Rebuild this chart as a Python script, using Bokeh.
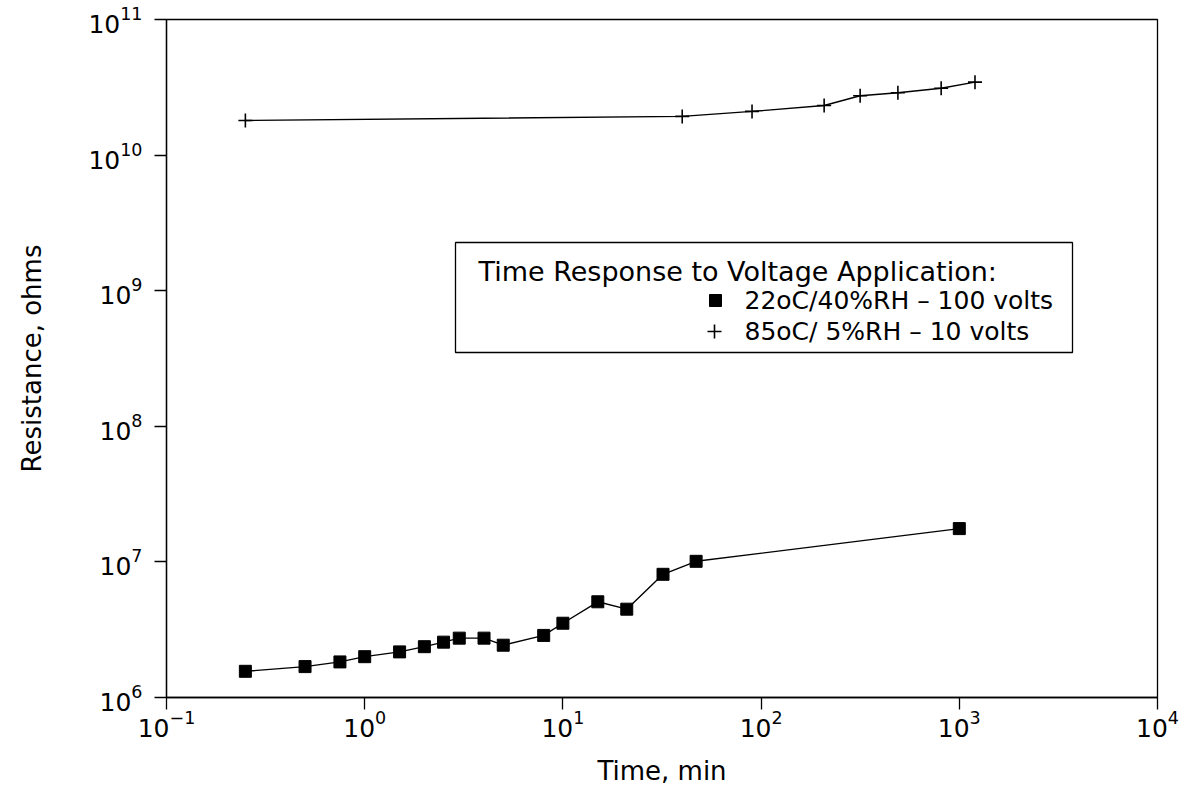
import math
from bokeh.plotting import figure
from bokeh.models import Range1d, FixedTicker, BoxAnnotation
from bokeh.core.properties import value
from bokeh.embed import file_html
from bokeh.resources import INLINE

# ---- data ----
time_22 = [0.25, 0.5, 0.75, 1, 1.5, 2, 2.5, 3, 4, 5, 8, 10, 15, 21, 32, 47, 1000]
res_22 = [1.56e6, 1.69e6, 1.83e6, 2.0e6, 2.17e6, 2.37e6, 2.56e6, 2.74e6, 2.74e6,
          2.43e6, 2.87e6, 3.53e6, 5.08e6, 4.48e6, 8.1e6, 1.01e7, 1.76e7]
time_85 = [0.25, 40, 90, 208, 316, 490, 810, 1200]
res_85 = [1.80e10, 1.93e10, 2.10e10, 2.32e10, 2.74e10, 2.88e10, 3.11e10, 3.45e10]

x_ticks = [0.1, 1, 10, 100, 1000, 10000]
y_ticks = [1e6, 1e7, 1e8, 1e9, 1e10, 1e11]
legend_title = "Time Response to Voltage Application:"
series_labels = ["22oC/40%RH \u2013 100 volts", "85oC/ 5%RH \u2013 10 volts"]
x_label = "Time, min"
y_label = "Resistance, ohms"

FONT = "DejaVu Sans"

# frame geometry (picture pixels)
FL, FT, FW, FH = 166, 19, 991, 678
XMIN, XMAX, YMIN, YMAX = 0.1, 1e4, 1e6, 1e11


def fx(px):
    lo, hi = math.log10(XMIN), math.log10(XMAX)
    return 10 ** (lo + (px - FL) / FW * (hi - lo))


def fy(py):
    lo, hi = math.log10(YMIN), math.log10(YMAX)
    return 10 ** (hi - (py - FT) / FH * (hi - lo))


p = figure(x_axis_type="log", y_axis_type="log",
           x_range=Range1d(XMIN, XMAX), y_range=Range1d(YMIN, YMAX),
           frame_width=FW, frame_height=FH,
           min_border_left=FL, min_border_top=FT,
           min_border_right=24, min_border_bottom=40,
           output_backend="svg", toolbar_location=None)

p.background_fill_color = "white"
p.border_fill_color = "white"
p.outline_line_color = "black"
p.outline_line_width = 1.3
p.grid.visible = False

p.xaxis.ticker = FixedTicker(ticks=x_ticks, minor_ticks=[])
p.yaxis.ticker = FixedTicker(ticks=y_ticks, minor_ticks=[])

for ax in (p.xaxis[0], p.yaxis[0]):
    ax.axis_line_color = "black"
    ax.axis_line_width = 1.3
    ax.major_tick_line_color = "black"
    ax.major_tick_line_width = 1.3
    ax.major_tick_in = 0
    ax.major_tick_out = 12
    ax.minor_tick_line_color = None
    ax.major_label_text_font = FONT
    ax.major_label_text_font_size = "25px"
    ax.major_label_text_color = "black"
    ax.axis_label_text_font = FONT
    ax.axis_label_text_font_size = "26px"
    ax.axis_label_text_font_style = "normal"
    ax.axis_label_text_color = "black"

p.xaxis.axis_label = x_label
p.yaxis.axis_label = y_label
p.xaxis.major_label_standoff = 0
p.yaxis.major_label_standoff = 12
p.xaxis.axis_label_standoff = 16
p.yaxis.axis_label_standoff = 38

# series
p.line(time_22, res_22, line_color="black", line_width=1.4)
p.scatter(time_22, res_22, marker="square", size=12, fill_color="black", line_color="black")
p.line(time_85, res_85, line_color="black", line_width=1.4)
p.scatter(time_85, res_85, marker="cross", size=14, line_color="black", line_width=1.6)

# legend box (drawn manually)
box = BoxAnnotation(left=fx(455), right=fx(1072), top=fy(242), bottom=fy(352),
                    fill_color=None, line_color="black", line_alpha=1.0, line_width=1.3)
p.add_layout(box)

p.text(x=[fx(478)], y=[fy(271)], text=[legend_title],
       text_font=value(FONT), text_font_size="27px",
       text_align="left", text_baseline="middle", text_color="black")
p.scatter([fx(715)], [fy(300)], marker="square", size=12, fill_color="black", line_color="black")
p.scatter([fx(714)], [fy(331)], marker="cross", size=14, line_color="black", line_width=1.6)
p.text(x=[fx(744), fx(744)], y=[fy(300), fy(331)], text=series_labels,
       text_font=value(FONT), text_font_size="25px",
       text_align="left", text_baseline="middle", text_color="black")

open("out.html", "w").write(file_html(p, INLINE))
